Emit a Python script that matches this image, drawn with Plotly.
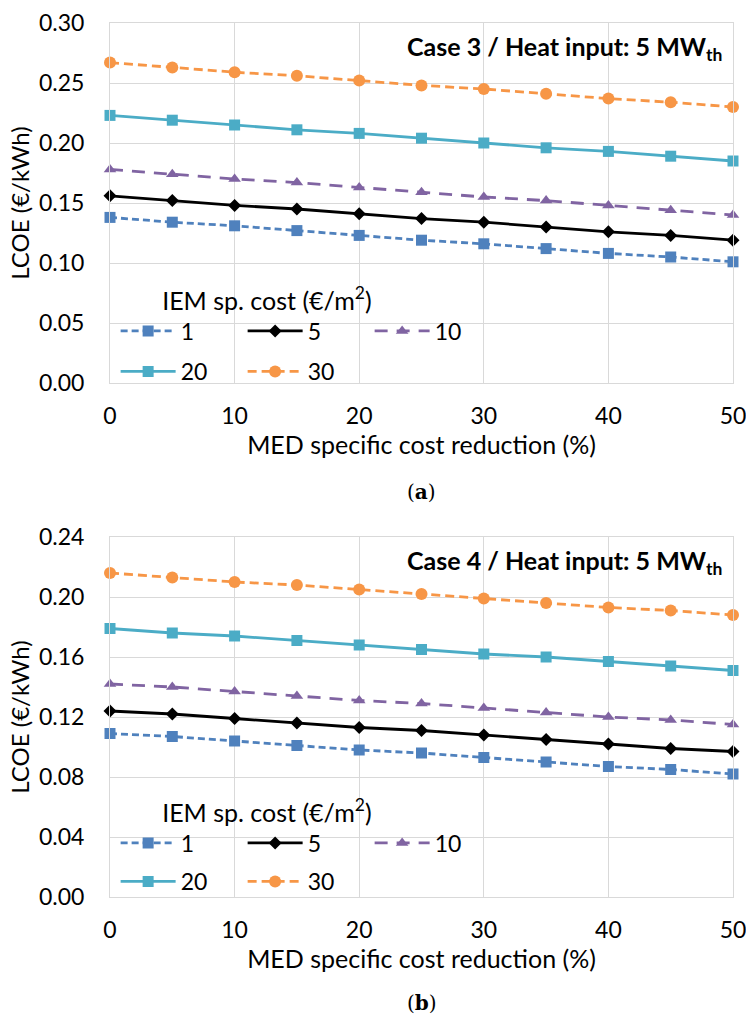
import plotly.graph_objects as go

x_reduction = [0, 5, 10, 15, 20, 25, 30, 35, 40, 45, 50]
series_names = ["1", "5", "10", "20", "30"]

# Case 3 (panel a)
a_1 = [0.138, 0.134, 0.131, 0.127, 0.123, 0.119, 0.116, 0.112, 0.108, 0.105, 0.101]
a_5 = [0.156, 0.152, 0.148, 0.145, 0.141, 0.137, 0.134, 0.130, 0.126, 0.123, 0.119]
a_10 = [0.178, 0.174, 0.170, 0.167, 0.163, 0.159, 0.155, 0.152, 0.148, 0.144, 0.140]
a_20 = [0.223, 0.219, 0.215, 0.211, 0.208, 0.204, 0.200, 0.196, 0.193, 0.189, 0.185]
a_30 = [0.267, 0.263, 0.259, 0.256, 0.252, 0.248, 0.245, 0.241, 0.237, 0.234, 0.230]

# Case 4 (panel b)
b_1 = [0.109, 0.107, 0.104, 0.101, 0.098, 0.096, 0.093, 0.090, 0.087, 0.085, 0.082]
b_5 = [0.124, 0.122, 0.119, 0.116, 0.113, 0.111, 0.108, 0.105, 0.102, 0.099, 0.097]
b_10 = [0.142, 0.140, 0.137, 0.134, 0.131, 0.129, 0.126, 0.123, 0.120, 0.118, 0.115]
b_20 = [0.179, 0.176, 0.174, 0.171, 0.168, 0.165, 0.162, 0.160, 0.157, 0.154, 0.151]
b_30 = [0.216, 0.213, 0.210, 0.208, 0.205, 0.202, 0.199, 0.196, 0.193, 0.191, 0.188]

a_ticks = [0.00, 0.05, 0.10, 0.15, 0.20, 0.25, 0.30]
b_ticks = [0.00, 0.04, 0.08, 0.12, 0.16, 0.20, 0.24]
x_ticks = [0, 10, 20, 30, 40, 50]

FONT = "Lato"
styles = {
    "1": dict(color="#4f81bd", dash="7px,4px", symbol="square", size=11),
    "5": dict(color="#000000", dash="solid", symbol="diamond", size=10),
    "10": dict(color="#8064a2", dash="13px,9px", symbol="triangle-up", size=11),
    "20": dict(color="#4bacc6", dash="solid", symbol="square", size=11),
    "30": dict(color="#f79646", dash="9px,5px", symbol="circle", size=12),
}
# legend row for each series: first row (with the legend title) and second row
row_of = {"1": 0, "5": 0, "10": 0, "20": 1, "30": 1}

fig = go.Figure()
panels = [
    ("x", "y", ["legend", "legend2"], [a_1, a_5, a_10, a_20, a_30]),
    ("x2", "y2", ["legend3", "legend4"], [b_1, b_5, b_10, b_20, b_30]),
]
for xa, ya, lgs, data in panels:
    for name, vals in zip(series_names, data):
        s = styles[name]
        fig.add_trace(go.Scatter(
            x=x_reduction, y=vals, name=name, xaxis=xa, yaxis=ya, legend=lgs[row_of[name]],
            mode="lines+markers", cliponaxis=False,
            line=dict(color=s["color"], width=2.8, dash=s["dash"]),
            marker=dict(symbol=s["symbol"], size=s["size"], color=s["color"]),
        ))

grid = "#d9d9d9"
xcommon = dict(range=[0, 50], tickvals=x_ticks, showgrid=True, gridcolor=grid, gridwidth=1,
               showline=True, linecolor=grid, mirror=True, zeroline=False, automargin=False,
               tickfont=dict(family=FONT, size=23, color="#000"), ticks="",
               ticklabelstandoff=12, ticklabeloverflow="allow",
               title=dict(text="MED specific cost reduction (%)", font=dict(family=FONT, size=25, color="#000"), standoff=4))
ycommon = dict(showgrid=True, gridcolor=grid, gridwidth=1, showline=True, linecolor=grid, mirror=True,
               zeroline=True, zerolinecolor="#bfbfbf", zerolinewidth=1.5, automargin=False,
               tickfont=dict(family=FONT, size=23, color="#000"), ticks="", tickformat=".2f",
               ticklabelstandoff=20, ticklabeloverflow="allow",
               title=dict(text="LCOE (€/kWh)", font=dict(family=FONT, size=24, color="#000"), standoff=2))

xdom = [110 / 746, 733 / 746]
fig.update_layout(
    width=746, height=1021, margin=dict(l=0, r=0, t=0, b=0),
    paper_bgcolor="white", plot_bgcolor="white",
    xaxis=dict(domain=xdom, anchor="y", **xcommon),
    yaxis=dict(domain=[1 - 383 / 1021, 1 - 23 / 1021], anchor="x", range=[0, 0.30], tickvals=a_ticks, **ycommon),
    xaxis2=dict(domain=xdom, anchor="y2", **xcommon),
    yaxis2=dict(domain=[1 - 897 / 1021, 1 - 537 / 1021], anchor="x2", range=[0, 0.24], tickvals=b_ticks, **ycommon),
)

leg_common = dict(orientation="h", bgcolor="rgba(0,0,0,0)", xanchor="left", yanchor="top",
                  font=dict(family=FONT, size=23, color="#000"), itemwidth=55,
                  entrywidth=57, entrywidthmode="pixels", traceorder="normal")
leg_title = dict(text="&nbsp;&nbsp;&nbsp;&nbsp;&nbsp;\u2002IEM sp. cost (€/m<sup>2</sup>)", side="top",
                 font=dict(family=FONT, size=25, color="#000"))
lx = 0.155
fig.update_layout(
    legend=dict(x=lx, y=1 - 277 / 1021, title=leg_title, **leg_common),
    legend2=dict(x=lx, y=1 - 350 / 1021, **leg_common),
    legend3=dict(x=lx, y=1 - 789 / 1021, title=leg_title, **leg_common),
    legend4=dict(x=lx, y=1 - 860 / 1021, **leg_common),
)

for txt, yc in [("Case 3 / Heat input: 5 MW<sub>th</sub>", 48), ("Case 4 / Heat input: 5 MW<sub>th</sub>", 562)]:
    fig.add_annotation(text="<b>" + txt + "</b>", xref="paper", yref="paper", x=724 / 746, y=1 - yc / 1021,
                       xanchor="right", yanchor="middle", showarrow=False,
                       font=dict(family=FONT, size=25, color="#000"))
for txt, yc in [("(<b>a</b>)", 492), ("(<b>b</b>)", 1003)]:
    fig.add_annotation(text=txt, xref="paper", yref="paper", x=(110 + 733) / 2 / 746, y=1 - yc / 1021,
                       xanchor="center", yanchor="middle", showarrow=False,
                       font=dict(family="DejaVu Serif", size=20, color="#000"))

fig.write_html("out.html")
